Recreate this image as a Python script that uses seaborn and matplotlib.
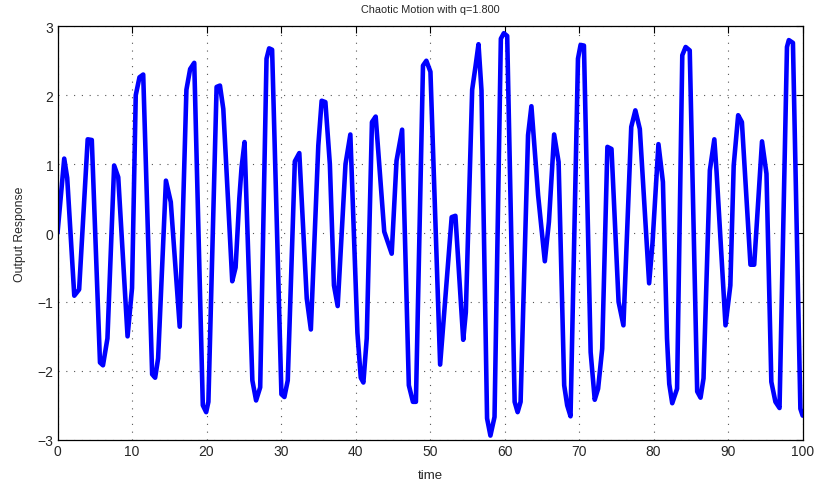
import numpy as np
import pandas as pd
import seaborn as sns
from matplotlib import pyplot as plt
from matplotlib.ticker import MultipleLocator

# vertices of the response curve
time = [0, 0.9, 1.3, 2.25, 2.9, 4.05, 4.6, 5.7, 6.1, 6.7, 7.6, 8.15, 9.4, 10.0,
        10.5, 11.0, 11.5, 12.7, 13.1, 13.5, 14.55, 15.2, 16.4, 17.3, 17.8, 18.35,
        19.5, 19.95, 20.25, 21.35, 21.8, 22.25, 23.45, 23.9, 24.4, 24.7, 25.1,
        26.15, 26.65, 27.2, 28.05, 28.4, 28.8, 30.05, 30.45, 30.9, 31.85, 32.45,
        33.45, 34.0, 35.0, 35.45, 35.95, 36.55, 37.1, 37.6, 38.65, 39.3, 40.25,
        40.7, 41.05, 41.5, 42.2, 42.7, 43.85, 44.85, 45.5, 46.25, 47.15, 47.7,
        48.1, 49.05, 49.5, 50.05, 51.35, 52.9, 53.4, 54.45, 54.8, 55.65, 56.1,
        56.5, 56.9, 57.65, 58.1, 58.65, 59.5, 59.9, 60.35, 61.35, 61.75, 62.15,
        63.15, 63.6, 64.5, 65.4, 65.95, 66.65, 67.25, 68.0, 68.4, 68.85, 69.85,
        70.2, 70.65, 71.55, 72.1, 72.55, 73.1, 73.8, 74.35, 75.3, 75.95, 77.0,
        77.55, 78.15, 79.4, 79.85, 80.65, 81.25, 81.8, 82.1, 82.5, 83.15, 83.85,
        84.3, 84.85, 85.85, 86.3, 86.7, 87.55, 88.15, 88.45, 89.65, 90.3, 90.75,
        91.35, 91.85, 93.0, 93.5, 94.55, 95.15, 95.8, 96.35, 96.9, 97.9, 98.15,
        98.7, 99.7, 100.0]
response = [0, 1.08, 0.8, -0.91, -0.82, 1.36, 1.35, -1.88, -1.92, -1.53, 0.98, 0.81,
            -1.5, -0.8, 2.0, 2.26, 2.3, -2.05, -2.1, -1.82, 0.76, 0.45, -1.36, 2.08,
            2.38, 2.47, -2.5, -2.6, -2.45, 2.12, 2.14, 1.8, -0.7, -0.5, 0.5, 0.95,
            1.32, -2.14, -2.43, -2.24, 2.53, 2.68, 2.66, -2.34, -2.38, -2.14, 1.04,
            1.16, -0.95, -1.4, 1.27, 1.92, 1.9, 1.0, -0.76, -1.06, 1.0, 1.43, -1.45,
            -2.1, -2.17, -1.53, 1.61, 1.69, 0.02, -0.3, 1.05, 1.5, -2.21, -2.45,
            -2.45, 2.43, 2.5, 2.34, -1.91, 0.23, 0.25, -1.55, -1.15, 2.08, 2.42,
            2.74, 2.07, -2.69, -2.94, -2.67, 2.82, 2.9, 2.86, -2.45, -2.6, -2.45,
            1.42, 1.84, 0.55, -0.41, 0.16, 1.43, 1.03, -2.21, -2.5, -2.66, 2.53,
            2.73, 2.72, -1.73, -2.42, -2.26, -1.68, 1.25, 1.22, -1.0, -1.34, 1.54,
            1.78, 1.51, -0.73, -0.15, 1.29, 0.74, -1.53, -2.19, -2.47, -2.26, 2.58,
            2.7, 2.65, -2.3, -2.39, -2.11, 0.91, 1.36, 0.89, -1.34, -0.76, 0.98,
            1.71, 1.61, -0.46, -0.46, 1.33, 0.86, -2.16, -2.45, -2.54, 2.7, 2.8,
            2.76, -2.55, -2.65]

df = pd.DataFrame({'time': time, 'response': response})

sns.set_style('white')
plt.rcParams['font.family'] = ['Liberation Sans', 'DejaVu Sans']

fig = plt.figure(figsize=(8.17, 4.85), dpi=100)
ax = fig.add_axes([0.0704, 0.0913, 0.912, 0.8524])

sns.lineplot(data=df, x='time', y='response', color='#0000ff', linewidth=3.3,
             sort=False, ax=ax)

ax.set_xlim(0, 100)
ax.set_ylim(-3, 3)
ax.xaxis.set_major_locator(MultipleLocator(10))
ax.yaxis.set_major_locator(MultipleLocator(1))
ax.grid(True, color='#555555', linestyle=(0, (1, 6)), linewidth=0.8)
ax.tick_params(direction='in', top=True, right=True, length=5, width=0.8,
               labelsize=10, pad=3, color='black')
for s in ax.spines.values():
    s.set_color('black')
    s.set_linewidth(0.9)

ax.set_xlabel('time', fontsize=9.5, labelpad=8)
ax.set_ylabel('Output Response', fontsize=8.8, labelpad=8)
ax.set_title('Chaotic Motion with q=1.800', fontsize=7.8, pad=10)

fig.savefig('out.png', dpi=100)
